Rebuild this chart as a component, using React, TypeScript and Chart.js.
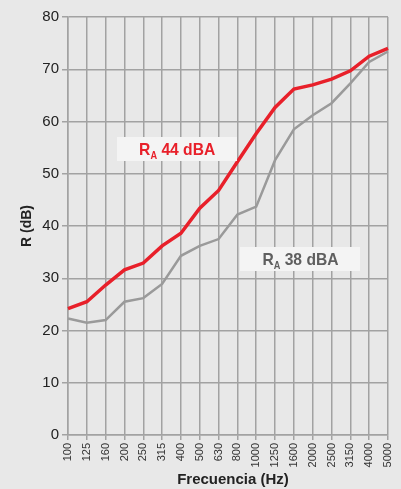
import React, { useEffect, useRef } from "react";
import { Chart, registerables } from "chart.js";

Chart.register(...registerables);

const categories = ["100", "125", "160", "200", "250", "315", "400", "500", "630", "800", "1000", "1250", "1600", "2000", "2500", "3150", "4000", "5000"];
const redValues = [24.2, 25.5, 28.7, 31.6, 32.9, 36.2, 38.6, 43.4, 46.8, 52.3, 57.7, 62.7, 66.2, 67.0, 68.1, 69.7, 72.5, 74.0];
const grayValues = [22.3, 21.5, 22.0, 25.5, 26.2, 28.9, 34.3, 36.2, 37.5, 42.2, 43.7, 52.6, 58.5, 61.2, 63.5, 67.3, 71.4, 73.4];
const labelMain = ["R", "R"];
const labelSub = ["A", "A"];
const labelRest = [" 44 dBA", " 38 dBA"];
const labelColors = ["#e8202a", "#5f5f5f"];
const labelIndex = [5.8, 12.35];
const labelValue = [54.7, 33.6];
const yTitle = "R (dB)";
const xTitle = "Frecuencia (Hz)";

const BG = "#e8e8e8";
const GRID = "#a2a2a2";
const NARROW = "'Liberation Sans Narrow', 'Arial Narrow', 'Liberation Sans', sans-serif";

const overlay = {
  id: "overlay",
  afterDatasetsDraw(chart: any) {
    const ctx = chart.ctx as CanvasRenderingContext2D;
    const xs = chart.scales.x;
    const ys = chart.scales.y;
    for (let i = 0; i < labelMain.length; i++) {
      const cx = xs.getPixelForValue(labelIndex[i]);
      const cy = ys.getPixelForValue(labelValue[i]);
      const w = 120, h = 24;
      ctx.save();
      ctx.fillStyle = "#f4f4f4";
      ctx.fillRect(Math.round(cx - w / 2), Math.round(cy - h / 2), w, h);
      const sx = 0.92;
      ctx.font = "bold 17px 'Liberation Sans', Arial, sans-serif";
      const wMain = ctx.measureText(labelMain[i]).width;
      const wRest = ctx.measureText(labelRest[i]).width;
      ctx.font = "bold 10px 'Liberation Sans', Arial, sans-serif";
      const wSub = ctx.measureText(labelSub[i]).width;
      const total = (wMain + wSub + wRest) * sx;
      ctx.translate(cx - total / 2, cy + 6);
      ctx.scale(sx, 1);
      ctx.fillStyle = labelColors[i];
      ctx.textBaseline = "alphabetic";
      ctx.textAlign = "left";
      ctx.font = "bold 17px 'Liberation Sans', Arial, sans-serif";
      ctx.fillText(labelMain[i], 0, 0);
      ctx.font = "bold 10px 'Liberation Sans', Arial, sans-serif";
      ctx.fillText(labelSub[i], wMain, 4);
      ctx.font = "bold 17px 'Liberation Sans', Arial, sans-serif";
      ctx.fillText(labelRest[i], wMain + wSub, 0);
      ctx.restore();
    }
    const area = chart.chartArea;
    ctx.save();
    ctx.fillStyle = "#222";
    ctx.font = "bold 14px 'Liberation Sans', Arial, sans-serif";
    ctx.textAlign = "center";
    ctx.textBaseline = "middle";
    ctx.translate(27, (area.top + area.bottom) / 2);
    ctx.rotate(-Math.PI / 2);
    ctx.fillText(yTitle, 0, 0);
    ctx.restore();
    ctx.save();
    ctx.fillStyle = "#222";
    ctx.font = "bold 15px 'Liberation Sans', Arial, sans-serif";
    ctx.textAlign = "center";
    ctx.textBaseline = "middle";
    ctx.fillText(xTitle, 233, 480);
    ctx.restore();
  },
};

const bgPlugin = {
  id: "bg",
  beforeDraw(chart: any) {
    const ctx = chart.ctx;
    ctx.save();
    ctx.fillStyle = BG;
    ctx.fillRect(0, 0, chart.width, chart.height);
    ctx.restore();
  },
};

export default function App() {
  const ref = useRef<HTMLCanvasElement>(null);
  useEffect(() => {
    document.body.style.margin = "0";
    document.body.style.background = BG;
    const chart = new Chart(ref.current!, {
      type: "line",
      data: {
        labels: categories,
        datasets: [
          {
            data: grayValues,
            borderColor: "#9a9a9a",
            borderWidth: 2.5,
            pointRadius: 0,
            tension: 0,
            fill: false,
          },
          {
            data: redValues,
            borderColor: "#e8202a",
            borderWidth: 3.5,
            pointRadius: 0,
            tension: 0,
            fill: false,
          },
        ],
      },
      options: {
        animation: false,
        responsive: false,
        devicePixelRatio: 1,
        layout: { padding: { top: 17, right: 13, left: 0, bottom: 0 } },
        plugins: { legend: { display: false }, tooltip: { enabled: false } },
        scales: {
          x: {
            type: "category",
            offset: false,
            grid: { color: GRID, lineWidth: 1.5, tickLength: 5, tickColor: GRID, offset: false },
            border: { color: GRID, width: 1.5 },
            ticks: {
              autoSkip: false,
              minRotation: 90,
              maxRotation: 90,
              padding: 3,
              color: "#333",
              font: { family: NARROW, size: 11 },
            },
            afterFit(scale: any) {
              scale.height = 54;
              scale.paddingLeft = 0;
              scale.paddingRight = 0;
            },
          },
          y: {
            min: 0,
            max: 80,
            ticks: {
              stepSize: 10,
              padding: 3,
              color: "#222",
              font: { family: NARROW, size: 15 },
            },
            grid: { color: GRID, lineWidth: 1.5, tickLength: 6, tickColor: GRID },
            border: { color: GRID, width: 1.5 },
            afterFit(scale: any) {
              scale.width = 68;
              scale.paddingTop = 0;
              scale.paddingBottom = 0;
            },
          },
        },
      },
      plugins: [bgPlugin, overlay],
    });
    return () => chart.destroy();
  }, []);
  return <canvas ref={ref} width={401} height={489} style={{ display: "block" }} />;
}
